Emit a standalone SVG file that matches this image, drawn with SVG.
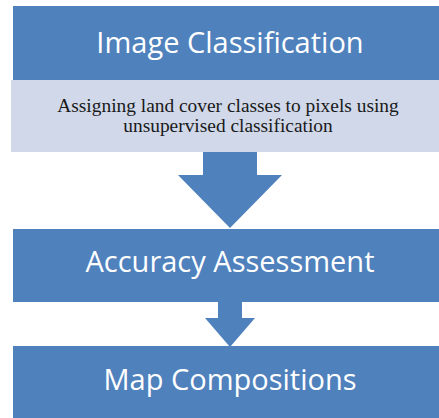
<svg xmlns="http://www.w3.org/2000/svg" width="439" height="418" viewBox="0 0 439 418">
<style>
.box{fill:#4F81BD}
.sub{fill:#D0D8E9}
.arrow{fill:#4F81BD}
.title{font-family:"Open Sans","Liberation Sans",sans-serif;font-size:29px;fill:#FFFFFF;text-anchor:middle}
.desc{font-family:"Liberation Serif",serif;font-size:19.4px;fill:#1a1a1a;text-anchor:middle}
</style>
<rect width="439" height="418" fill="#FFFFFF"/>
<g id="node-image-classification">
<rect class="box" x="13" y="6" width="426" height="74"/>
<text class="title" x="230" y="53">Image Classification</text>
</g>
<g id="node-description">
<rect class="sub" x="11" y="80" width="428" height="72"/>
<text class="desc" x="228" y="112">Assigning land cover classes to pixels using</text>
<text class="desc" x="228" y="132">unsupervised classification</text>
</g>
<g id="node-accuracy">
<rect class="box" x="13" y="229" width="426" height="73"/>
<text class="title" x="230" y="272">Accuracy Assessment</text>
</g>
<g id="node-map">
<rect class="box" x="13" y="346" width="426" height="72"/>
<text class="title" x="230" y="390">Map Compositions</text>
</g>
<g id="connectors">
<polygon class="arrow" points="203,152 257,152 257,175 282,175 230,228 178,175 203,175"/>
<polygon class="arrow" points="218,302 242,302 242,318 255,318 230,347 205,318 218,318"/>
</g>
</svg>
